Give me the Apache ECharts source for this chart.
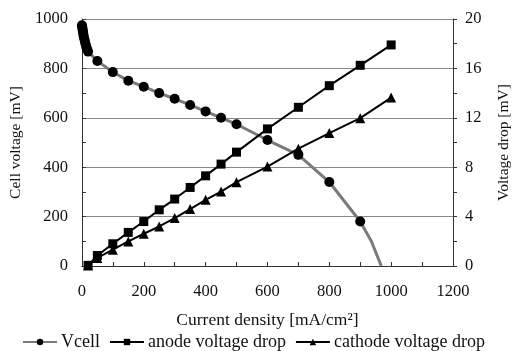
<!DOCTYPE html>
<html><head><meta charset="utf-8">
<script src="https://cdn.jsdelivr.net/npm/echarts@6/dist/echarts.min.js"></script>
<style>html,body{margin:0;padding:0;background:#fff}#c{width:520px;height:351px}</style>
</head><body><div id="c"></div>
<script>
var vcellX = [0,1,2,3,4,5,6,8,10,12,14,17,20,50,100,150,200,250,300,350,400,450,500,600,700,800,900,936,968];
var vcellY = [975,968,960,952,944,936,928,918,908,898,888,878,868,830,785,750,726,700,677,652,626,600,574,510,450,340,180,100,0];
var vcellMarked = 27; // number of points drawn with a marker
var anodeX = [20,50,100,150,200,250,300,350,400,450,500,600,700,800,900,1000];
var anodeY = [0.05,0.85,1.8,2.72,3.6,4.55,5.42,6.36,7.3,8.25,9.22,11.1,12.85,14.6,16.25,17.9];
var cathX = [20,50,100,150,200,250,300,350,400,450,500,600,700,800,900,1000];
var cathY = [0.05,0.65,1.32,1.99,2.61,3.2,3.88,4.61,5.36,6.03,6.79,8.05,9.5,10.76,11.97,13.64];
var leftTicks = [0,200,400,600,800,1000];
var rightTicks = [0,4,8,12,16,20];
var xTicks = [0,200,400,600,800,1000,1200];

var FONT = 'Liberation Serif';
function pairs(xs, ys){ return xs.map(function(x,i){ return [x, ys[i]]; }); }
function plain(v){ return String(v); }
var vcellData = vcellX.map(function(x,i){
  var d = {value:[x, vcellY[i]]};
  if (i >= vcellMarked) d.symbol = 'none';
  return d;
});

var chart = echarts.init(document.getElementById('c'), null, {renderer:'canvas'});
chart.setOption({
  animation:false,
  textStyle:{fontFamily:FONT, color:'#111'},
  grid:{left:79, right:61, top:19, bottom:85, containLabel:false},
  legend:{
    bottom:0, left:22, padding:0, itemGap:9, itemWidth:34, itemHeight:8,
    textStyle:{fontFamily:FONT, fontSize:18, color:'#111', padding:[0,0,0,-1]},
    data:['Vcell','anode voltage drop','cathode voltage drop']
  },
  xAxis:{
    type:'value', min:xTicks[0], max:xTicks[xTicks.length-1], interval:200,
    name:'Current density [mA/cm\u00B2]', nameLocation:'middle', nameGap:45,
    nameTextStyle:{fontFamily:FONT, fontSize:17.5, color:'#111'},
    axisLine:{show:true, lineStyle:{color:'#333', width:1}},
    axisTick:{show:true, inside:true, length:4, lineStyle:{color:'#333'}},
    minorTick:{show:true, splitNumber:2, length:4, lineStyle:{color:'#333'}},
    axisLabel:{fontFamily:FONT, fontSize:16.5, color:'#111', margin:17, formatter:plain},
    splitLine:{show:false}
  },
  yAxis:[{
    type:'value', min:leftTicks[0], max:leftTicks[leftTicks.length-1], interval:200,
    name:'Cell voltage [mV]', nameLocation:'middle', nameGap:48,
    nameTextStyle:{fontFamily:FONT, fontSize:15.5, color:'#111'},
    axisLine:{show:true, lineStyle:{color:'#333', width:1}},
    axisTick:{show:true, inside:true, length:4, lineStyle:{color:'#333'}},
    minorTick:{show:true, splitNumber:2, length:4, lineStyle:{color:'#333'}},
    axisLabel:{fontFamily:FONT, fontSize:16.5, color:'#111', margin:14, formatter:plain},
    splitLine:{show:true, lineStyle:{color:'#888', width:1}}
  },{
    type:'value', min:rightTicks[0], max:rightTicks[rightTicks.length-1], interval:4,
    name:'Voltage drop [mV]', nameLocation:'middle', nameGap:43, nameRotate:90,
    nameTextStyle:{fontFamily:FONT, fontSize:15.5, color:'#111'},
    axisLine:{show:true, lineStyle:{color:'#333', width:1}},
    axisTick:{show:true, length:4, lineStyle:{color:'#333'}},
    minorTick:{show:true, splitNumber:2, length:4, lineStyle:{color:'#333'}},
    axisLabel:{fontFamily:FONT, fontSize:16.5, color:'#111', margin:12, formatter:plain},
    splitLine:{show:false}
  }],
  series:[{
    name:'Vcell', type:'line', yAxisIndex:0, data:vcellData,
    symbol:'circle', symbolSize:10,
    itemStyle:{color:'#000'},
    lineStyle:{color:'#7a7a7a', width:3},
    z:3
  },{
    name:'anode voltage drop', type:'line', yAxisIndex:1, data:pairs(anodeX, anodeY),
    symbol:'rect', symbolSize:9,
    itemStyle:{color:'#000'},
    lineStyle:{color:'#000', width:2}
  },{
    name:'cathode voltage drop', type:'line', yAxisIndex:1, data:pairs(cathX, cathY),
    symbol:'triangle', symbolSize:10,
    itemStyle:{color:'#000'},
    lineStyle:{color:'#000', width:2}
  }]
});
</script></body></html>
